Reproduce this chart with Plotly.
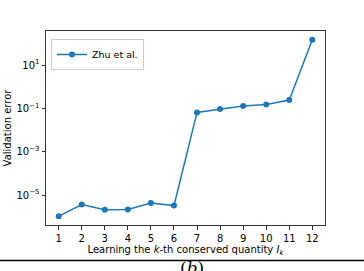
import plotly.graph_objects as go

k_values = [1, 2, 3, 4, 5, 6, 7, 8, 9, 10, 11, 12]
zhu_errors = [1.07e-6, 3.7e-6, 2.1e-6, 2.2e-6, 4.3e-6, 3.3e-6,
              0.066, 0.095, 0.13, 0.155, 0.245, 148.0]
y_tick_vals = [1e1, 1e-1, 1e-3, 1e-5]
y_tick_text = ["10<sup>1</sup>", "10<sup>−1</sup>", "10<sup>−3</sup>", "10<sup>−5</sup>"]

W, H = 364, 271
L, R, T, B = 46, 325, 31, 225
pw, ph = R - L, B - T

fig = go.Figure()
fig.add_trace(go.Scatter(
    x=k_values, y=zhu_errors, mode="lines+markers", name="Zhu et al.",
    line=dict(color="#1f77b4", width=1.5),
    marker=dict(color="#1f77b4", size=6),
))

axis_common = dict(showline=True, linecolor="#333333", linewidth=1, mirror=True,
                   ticks="outside", ticklen=3.5, tickwidth=1, tickcolor="#333333",
                   showgrid=False, zeroline=False, automargin=False,
                   tickfont=dict(family="DejaVu Sans", size=10, color="black"))

fig.update_xaxes(range=[0.45, 12.55], tickvals=k_values,
                 ticktext=[str(k) for k in k_values],
                 title=dict(text="Learning the <i>k</i>-th conserved quantity <i>I<sub>k</sub></i>",
                            font=dict(family="DejaVu Sans", size=10, color="black"), standoff=2),
                 **axis_common)
fig.update_yaxes(type="log", range=[-6.377, 2.577], tickvals=y_tick_vals, ticktext=y_tick_text,
                 title=dict(text="Validation error",
                            font=dict(family="DejaVu Sans", size=10, color="black"), standoff=2),
                 **axis_common)

# bottom separator line and subfigure label
fig.add_shape(type="line", xref="paper", yref="paper",
              x0=(0 - L) / pw, x1=(W - L) / pw,
              y0=(B - 260.5) / ph, y1=(B - 260.5) / ph,
              line=dict(color="black", width=1.5))
fig.add_annotation(xref="paper", yref="paper", x=(192 - L) / pw, y=(B - 267.5) / ph,
                   xanchor="center", yanchor="middle", showarrow=False,
                   text="(<i>b</i>)", font=dict(family="DejaVu Serif", size=17, color="black"))

fig.update_layout(
    width=W, height=H,
    margin=dict(l=L, r=W - R, t=T, b=H - B),
    plot_bgcolor="white", paper_bgcolor="white",
    showlegend=True,
    legend=dict(x=(51 - L) / pw, y=(B - 39) / ph, xanchor="left", yanchor="top",
                bordercolor="#cccccc", borderwidth=1, bgcolor="rgba(255,255,255,0.8)",
                font=dict(family="DejaVu Sans", size=9.5, color="black"),
                itemwidth=30, tracegroupgap=0),
)

fig.write_html("out.html", config={"displayModeBar": False},
               post_script="document.body.style.margin='0';document.body.style.overflow='hidden';")
